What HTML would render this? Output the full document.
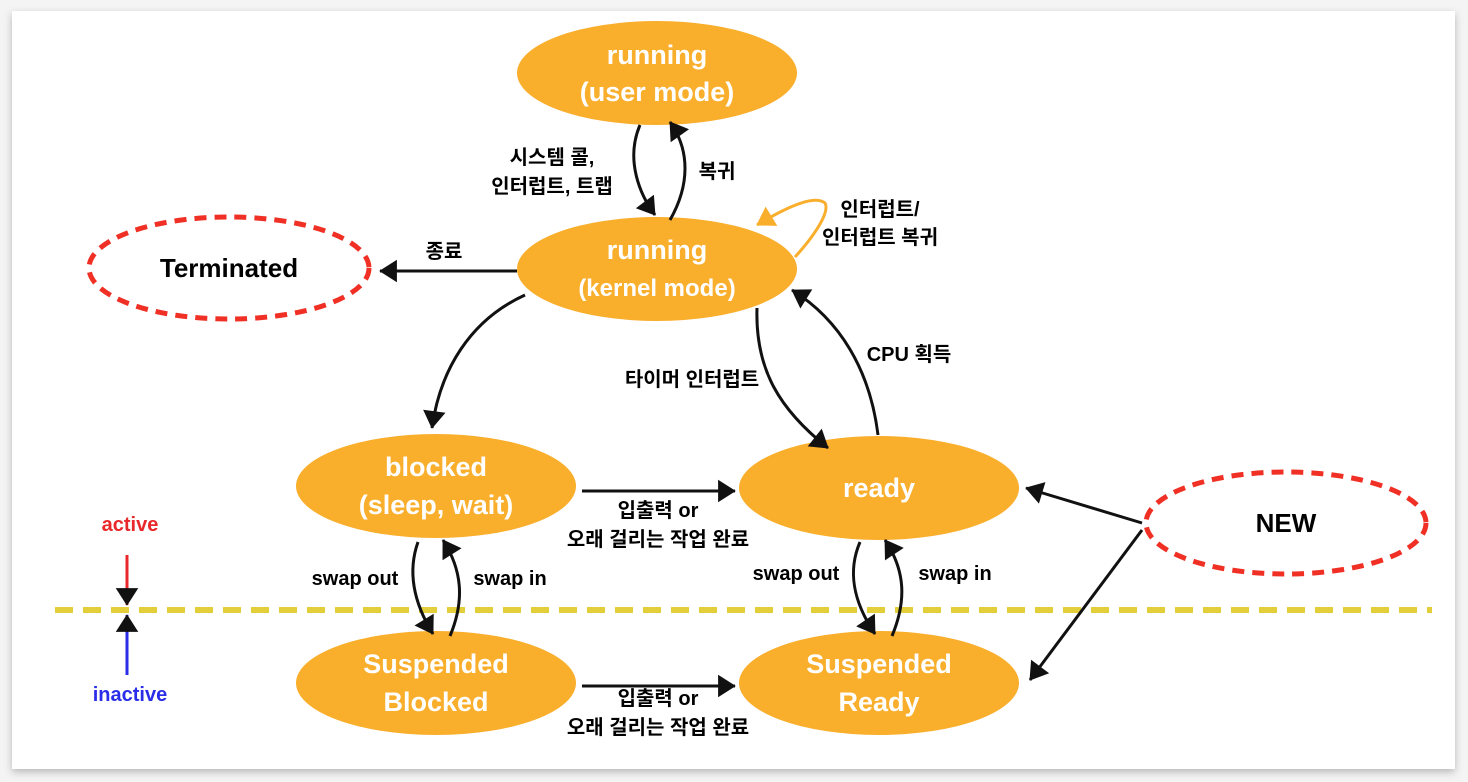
<!DOCTYPE html>
<html><head><meta charset="utf-8"><style>
html,body{margin:0;padding:0;background:#f4f4f4;}
svg{display:block}
text{font-family:"Liberation Sans","Noto Sans CJK KR",sans-serif;font-weight:bold}
</style></head><body>
<svg width="1468" height="782" viewBox="0 0 1468 782" xmlns="http://www.w3.org/2000/svg">
<defs>
<marker id="a" viewBox="0 0 10 10" refX="9" refY="5" markerWidth="7" markerHeight="7" orient="auto" markerUnits="userSpaceOnUse" style="overflow:visible">
<path d="M-12,-9 L10,5 L-12,19 Z" fill="#111" transform="translate(9,5) scale(1.15) translate(-9,-5)"/></marker>
<marker id="o" viewBox="0 0 10 10" refX="9" refY="5" markerWidth="7" markerHeight="7" orient="auto" markerUnits="userSpaceOnUse" style="overflow:visible">
<path d="M-12,-9 L10,5 L-12,19 Z" fill="#F9AE2C" transform="translate(9,5) scale(1.15) translate(-9,-5)"/></marker>
<filter id="sh" x="-5%" y="-5%" width="110%" height="110%"><feDropShadow dx="0" dy="3" stdDeviation="4" flood-color="#000" flood-opacity="0.25"/></filter>
</defs>
<rect x="12" y="11" width="1443" height="758" fill="#fff" filter="url(#sh)"/>
<g fill="#F9AE2C">
<ellipse cx="657" cy="73" rx="140" ry="52"/>
<ellipse cx="657" cy="269" rx="140" ry="52"/>
<ellipse cx="436" cy="486" rx="140" ry="52"/>
<ellipse cx="879" cy="488" rx="140" ry="52"/>
<ellipse cx="436" cy="683" rx="140" ry="52"/>
<ellipse cx="879" cy="683" rx="140" ry="52"/>
</g>
<g fill="none" stroke="#F03025" stroke-width="5" stroke-dasharray="12 8">
<ellipse cx="229" cy="268" rx="140" ry="51"/>
<ellipse cx="1286" cy="523" rx="140" ry="51"/>
</g>
<line x1="55" y1="610" x2="1432" y2="610" stroke="#E3CF3B" stroke-width="6" stroke-dasharray="18 10"/>
<g fill="#fff" font-size="27" text-anchor="middle">
<text x="657" y="64">running</text><text x="657" y="101">(user mode)</text>
<text x="657" y="259">running</text><text x="657" y="296" font-size="24">(kernel mode)</text>
<text x="436" y="476">blocked</text><text x="436" y="514">(sleep, wait)</text>
<text x="879" y="497">ready</text>
<text x="436" y="673">Suspended</text><text x="436" y="711">Blocked</text>
<text x="879" y="673">Suspended</text><text x="879" y="711">Ready</text>
</g>
<g fill="#000" font-size="26" text-anchor="middle">
<text x="229" y="277">Terminated</text>
<text x="1286" y="532">NEW</text>
</g>
<g fill="none" stroke="#111" stroke-width="3">
<path d="M640,125 C625,160 640,195 655,215" marker-end="url(#a)"/>
<path d="M670,220 C690,185 690,150 670,122" marker-end="url(#a)"/>
<path d="M517,271 L380,271" marker-end="url(#a)"/>
<path d="M525,295 C470,320 440,370 432,428" marker-end="url(#a)"/>
<path d="M757,308 C755,370 780,410 828,448" marker-end="url(#a)"/>
<path d="M878,435 C870,370 840,320 792,290" marker-end="url(#a)"/>
<path d="M582,491 L735,491" marker-end="url(#a)"/>
<path d="M418,542 C408,570 412,600 433,634" marker-end="url(#a)"/>
<path d="M450,636 C465,600 462,570 443,540" marker-end="url(#a)"/>
<path d="M860,542 C848,570 852,600 875,634" marker-end="url(#a)"/>
<path d="M892,636 C907,600 905,570 885,540" marker-end="url(#a)"/>
<path d="M582,686 L735,686" marker-end="url(#a)"/>
<path d="M1142,523 L1026,488" marker-end="url(#a)"/>
<path d="M1142,530 L1030,680" marker-end="url(#a)"/>
<path d="M127,555 L127,605" stroke="#E8282A" marker-end="url(#a)"/>
<path d="M127,675 L127,615" stroke="#2B2EE8" marker-end="url(#a)"/>
</g>
<path d="M795,257 C815,235 830,212 825,203 C815,195 790,205 757,225" fill="none" stroke="#F9AE2C" stroke-width="3" marker-end="url(#o)"/>
<g fill="#000" font-size="20" text-anchor="middle">
<text x="552" y="164">시스템 콜,</text><text x="552" y="193">인터럽트, 트랩</text>
<text x="717" y="178">복귀</text>
<text x="444" y="258">종료</text>
<text x="880" y="216">인터럽트/</text><text x="880" y="244">인터럽트 복귀</text>
<text x="909" y="361">CPU 획득</text>
<text x="692" y="386">타이머 인터럽트</text>
<text x="658" y="517">입출력 or</text><text x="658" y="546">오래 걸리는 작업 완료</text>
<text x="355" y="585">swap out</text><text x="510" y="585">swap in</text>
<text x="796" y="580">swap out</text><text x="955" y="580">swap in</text>
<text x="658" y="705">입출력 or</text><text x="658" y="734">오래 걸리는 작업 완료</text>
</g>
<text x="130" y="531" fill="#E8282A" font-size="20" text-anchor="middle">active</text>
<text x="130" y="701" fill="#2B2EE8" font-size="20" text-anchor="middle">inactive</text>
</svg>
</body></html>
